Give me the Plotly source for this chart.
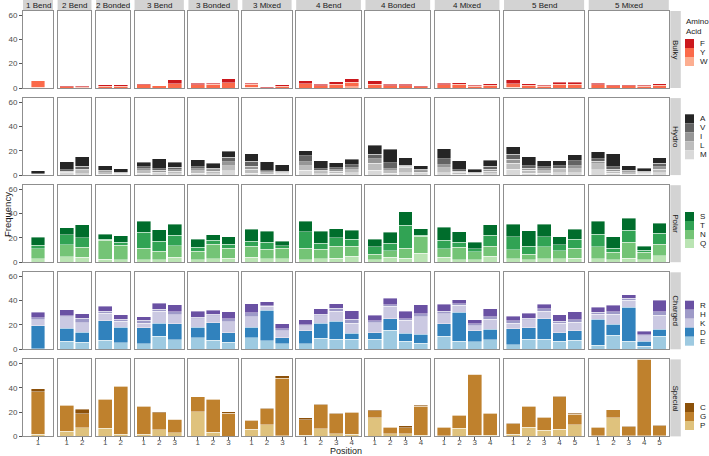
import plotly.graph_objects as go

# ---------------- data ----------------
facets = ["1 Bend", "2 Bend", "2 Bonded", "3 Bend", "3 Bonded", "3 Mixed",
          "4 Bend", "4 Bonded", "4 Mixed", "5 Bend", "5 Mixed"]
n_positions = [1, 2, 2, 3, 3, 3, 4, 4, 4, 5, 5]
groups = ["Bulky", "Hydro", "Polar", "Charged", "Special"]

# values ordered facet by facet, position by position (36 bars)
# Bulky
bulky_F = [0.0, 0.8, 0.6, 1.2, 1.5, 1.0, 0.0, 3.0, 1.3, 1.1, 3.3, 0.8, 0.8, 1.3,
           2.2, 1.0, 2.4, 2.8, 3.0, 1.2, 1.2, 0.7, 1.2, 1.4, 0.8, 1.2,
           3.3, 1.2, 0.8, 1.6, 1.6, 1.3, 1.0, 1.0, 0.8, 1.3]
bulky_Y = [5.6, 1.1, 0.8, 1.3, 1.3, 2.6, 1.9, 3.6, 2.6, 3.0, 4.2, 2.4, 0.3, 1.5,
           3.6, 2.0, 2.9, 4.0, 3.1, 1.8, 1.8, 1.2, 2.7, 3.0, 1.4, 2.1,
           3.0, 2.4, 1.4, 3.1, 3.1, 2.8, 1.8, 1.8, 1.4, 2.3]
bulky_W = [0.5, 0.0, 0.0, 0.0, 0.0, 0.0, 0.0, 0.0, 0.0, 0.0, 0.0, 0.7, 0.0, 0.0,
           0.0, 0.0, 0.0, 0.9, 0.0, 0.0, 0.0, 0.0, 0.0, 0.0, 0.0, 0.0,
           0.6, 0.0, 0.0, 0.0, 0.0, 0.0, 0.0, 0.0, 0.0, 0.0]
# Hydro
hydro_A = [2.5, 6.6, 7.5, 3.9, 3.0, 3.6, 8.0, 4.1, 5.8, 3.9, 5.0, 6.4, 7.2, 5.5,
           4.4, 6.4, 4.1, 4.4, 7.5, 11.0, 6.1, 2.8, 8.3, 7.5, 2.8, 5.3,
           6.1, 7.2, 5.0, 4.1, 5.3, 6.1, 10.5, 3.6, 2.5, 4.4]
hydro_V = [0.3, 1.2, 2.5, 1.0, 0.6, 1.6, 1.5, 1.8, 1.8, 1.5, 3.6, 3.9, 1.0, 0.8,
           4.7, 1.4, 1.5, 2.5, 3.6, 5.0, 1.1, 1.2, 4.7, 1.2, 0.6, 2.2,
           4.1, 2.0, 1.8, 2.0, 3.9, 2.0, 2.0, 1.0, 0.8, 2.8]
hydro_I = [0.3, 1.0, 1.5, 1.0, 0.6, 1.6, 1.3, 1.5, 1.5, 1.3, 3.3, 2.5, 0.8, 0.7,
           3.3, 1.2, 1.3, 1.8, 3.6, 1.8, 0.8, 1.0, 2.5, 1.0, 0.5, 1.6,
           3.3, 1.8, 1.5, 1.6, 2.4, 1.8, 1.6, 1.0, 0.7, 2.0]
hydro_L = [0.3, 1.2, 2.2, 1.0, 0.6, 2.2, 1.5, 1.8, 2.1, 1.7, 4.1, 3.3, 1.0, 0.9,
           4.0, 1.5, 1.7, 2.4, 6.1, 2.0, 4.5, 1.5, 4.1, 1.3, 0.6, 2.0,
           5.0, 2.2, 2.1, 2.4, 3.2, 5.0, 1.8, 1.0, 0.8, 2.8]
hydro_M = [0.2, 1.0, 1.2, 0.8, 0.5, 1.5, 1.0, 1.3, 1.5, 1.3, 3.6, 1.6, 0.8, 0.7,
           3.8, 1.1, 1.4, 1.9, 3.8, 1.5, 1.9, 1.0, 2.0, 0.9, 0.5, 1.3,
           4.7, 1.7, 1.5, 1.8, 2.1, 4.5, 1.5, 0.9, 0.7, 2.1]
# Polar
polar_S = [6.6, 5.8, 11.0, 4.0, 5.3, 9.1, 9.4, 9.1, 6.6, 4.7, 6.1, 10.0, 9.1, 3.9,
           8.8, 10.0, 7.2, 7.5, 6.1, 9.1, 11.0, 5.3, 10.8, 8.6, 5.3, 8.6,
           10.2, 13.0, 10.5, 6.4, 8.3, 10.5, 9.4, 9.7, 3.6, 8.3]
polar_T = [2.8, 8.3, 7.5, 1.0, 2.8, 13.0, 8.0, 8.6, 3.3, 3.3, 3.3, 3.9, 5.8, 1.9,
           13.3, 5.0, 7.2, 5.5, 6.1, 5.8, 18.8, 0.8, 6.9, 3.9, 2.2, 9.1,
           10.8, 6.4, 8.3, 5.0, 7.2, 10.5, 3.6, 10.0, 1.4, 9.1]
polar_N = [8.3, 10.0, 8.3, 15.5, 11.6, 9.4, 6.9, 9.4, 6.9, 11.9, 8.3, 9.1, 7.7, 8.8,
           9.4, 7.7, 9.7, 8.3, 4.4, 5.5, 8.3, 14.0, 6.9, 10.2, 6.6, 8.0,
           7.5, 4.4, 9.7, 6.6, 8.3, 9.7, 5.8, 13.0, 6.1, 9.1]
polar_Q = [2.8, 4.4, 4.1, 2.5, 2.2, 2.2, 2.2, 4.1, 2.2, 2.8, 3.3, 4.1, 3.0, 2.8,
           2.2, 2.8, 3.3, 5.0, 2.2, 4.1, 3.3, 7.5, 4.1, 2.2, 2.2, 5.0,
           2.8, 2.2, 2.8, 2.8, 3.3, 2.8, 2.2, 3.3, 2.2, 5.5]
# Charged
charged_R = [4.2, 5.0, 3.9, 3.9, 3.6, 2.8, 5.0, 5.8, 4.7, 3.3, 5.8, 7.5, 3.3, 4.2,
             3.9, 4.4, 3.9, 6.9, 4.4, 5.3, 6.1, 7.2, 5.8, 3.3, 3.1, 6.7,
             3.9, 4.2, 3.9, 5.3, 6.4, 3.9, 5.3, 2.8, 2.8, 9.4]
charged_H = [1.9, 0.5, 3.6, 1.7, 1.7, 2.5, 1.7, 2.2, 1.4, 1.4, 2.5, 3.1, 0.6, 1.7,
             1.1, 1.4, 2.5, 3.3, 1.7, 1.4, 1.4, 2.8, 1.9, 1.1, 1.7, 2.2,
             1.9, 1.4, 2.2, 1.7, 2.2, 1.7, 1.9, 1.7, 0.8, 2.8]
charged_K = [4.7, 9.4, 7.8, 6.1, 4.7, 3.6, 9.7, 7.5, 6.7, 5.8, 9.2, 8.9, 3.3, 5.8,
             3.9, 6.1, 8.1, 8.3, 8.3, 10.3, 10.8, 14.4, 8.3, 5.6, 4.2, 8.1,
             4.4, 6.4, 6.1, 7.8, 6.9, 4.2, 8.3, 5.6, 4.4, 11.7]
charged_D = [19.0, 10.8, 8.3, 16.1, 13.0, 13.0, 10.6, 13.3, 8.9, 14.2, 7.8, 8.6, 25.0, 4.7,
             10.6, 12.5, 15.0, 5.0, 5.3, 9.4, 6.4, 7.2, 10.3, 23.9, 9.2, 8.6,
             13.1, 9.7, 16.7, 6.9, 7.8, 21.4, 8.9, 28.0, 4.2, 5.8]
charged_E = [0.5, 6.7, 5.8, 7.5, 5.3, 4.7, 10.8, 7.8, 9.4, 7.5, 5.6, 9.4, 6.9, 4.7,
             4.7, 8.9, 8.1, 8.3, 8.3, 15.6, 6.7, 5.0, 10.8, 6.7, 6.1, 7.8,
             3.9, 8.1, 8.3, 6.7, 7.5, 3.3, 11.7, 6.7, 2.5, 10.6]
# Special
special_C = [2.5, 0.3, 3.6, 0.3, 0.3, 0.3, 0.5, 0.3, 0.3, 0.5, 1.4, 0.2, 0.3, 1.7,
             1.4, 0.3, 0.3, 0.5, 0.8, 0.5, 1.4, 1.1, 0.3, 0.3, 0.0, 0.5,
             0.5, 0.5, 0.5, 0.3, 0.8, 0.5, 0.3, 0.5, 0.0, 0.5]
special_G = [35.0, 21.5, 11.6, 24.0, 39.7, 23.1, 14.1, 11.2, 12.4, 26.8, 19.0, 7.5, 13.2, 47.5,
             13.0, 20.1, 16.5, 18.2, 5.5, 5.3, 5.0, 23.5, 7.2, 10.8, 50.2, 18.3,
             8.8, 17.4, 10.6, 27.0, 8.6, 7.0, 6.4, 7.2, 62.8, 8.0]
special_P = [1.7, 4.1, 7.2, 6.6, 1.7, 1.7, 5.5, 2.8, 20.1, 3.6, 0.0, 5.8, 9.7, 0.5,
             0.8, 6.1, 2.2, 1.7, 15.5, 2.2, 2.2, 1.1, 0.5, 6.6, 0.8, 0.8,
             1.7, 7.5, 5.2, 5.8, 9.7, 0.5, 15.4, 0.6, 0.5, 0.6]

# legend order (top to bottom) per group; stacks are drawn bottom-up (reverse)
acids = {
    "Bulky": [("F", bulky_F), ("Y", bulky_Y), ("W", bulky_W)],
    "Hydro": [("A", hydro_A), ("V", hydro_V), ("I", hydro_I), ("L", hydro_L), ("M", hydro_M)],
    "Polar": [("S", polar_S), ("T", polar_T), ("N", polar_N), ("Q", polar_Q)],
    "Charged": [("R", charged_R), ("H", charged_H), ("K", charged_K), ("D", charged_D), ("E", charged_E)],
    "Special": [("C", special_C), ("G", special_G), ("P", special_P)],
}
colors = {
    "F": "#CB181D", "Y": "#FB6A4A", "W": "#FCAE91",
    "A": "#252525", "V": "#636363", "I": "#969696", "L": "#BDBDBD", "M": "#D9D9D9",
    "S": "#006D2C", "T": "#31A354", "N": "#74C476", "Q": "#BAE4B3",
    "R": "#6A51A3", "H": "#9E9AC8", "K": "#CBC9E2", "D": "#3182BD", "E": "#9ECAE1",
    "C": "#8C510A", "G": "#BF812D", "P": "#DFC27D",
}
y_ticks = [0, 20, 40, 60]
y_max = 63.3

# ---------------- layout geometry (pixels) ----------------
W, H = 709, 456
FONT = "Liberation Sans, Arial, sans-serif"
def px(x):
    return x / W
def py(y):
    return 1 - y / H

unit = 15.4
gap = 4.6
left0 = 23.0
panel_x = []
x = left0
for n in n_positions:
    w = 30.0 if n == 1 else (n + 0.2) * unit
    panel_x.append((x, x + w))
    x += w + gap
row_top = [11.0 + 87.1 * r for r in range(5)]
row_h = 77.0

fig = go.Figure()
layout = {}
shapes = []
annotations = []

starts = []
s = 0
for n in n_positions:
    starts.append(s)
    s += n

for r, g in enumerate(groups):
    for c, f in enumerate(facets):
        k = r * len(facets) + c + 1
        xa = "x" if k == 1 else f"x{k}"
        ya = "y" if k == 1 else f"y{k}"
        n = n_positions[c]
        pos = list(range(1, n + 1))
        for aa, vals in reversed(acids[g]):
            fig.add_trace(go.Bar(
                x=pos, y=vals[starts[c]:starts[c] + n], width=0.9,
                marker=dict(color=colors[aa], line=dict(color="rgba(255,255,255,0.8)", width=0.5)),
                xaxis=xa, yaxis=ya, showlegend=False, name=aa,
            ))
        x0, x1 = panel_x[c]
        y0 = row_top[r]
        y1 = y0 + row_h
        xr = [1 - 30.0 / unit / 2, 1 + 30.0 / unit / 2] if n == 1 else [0.4, n + 0.6]
        xkey = "xaxis" if k == 1 else f"xaxis{k}"
        ykey = "yaxis" if k == 1 else f"yaxis{k}"
        layout[xkey] = dict(
            domain=[px(x0), px(x1)], range=xr, anchor=ya, automargin=False,
            showgrid=False, zeroline=False, showline=True, mirror=True,
            linecolor="#8f8f8f", linewidth=1,
            tickvals=pos, ticktext=[str(p) for p in pos],
            showticklabels=(r == len(groups) - 1),
            ticks="outside" if r == len(groups) - 1 else "",
            ticklen=3, tickcolor="#555555", tickwidth=1,
            ticklabelstandoff=-5,
            tickfont=dict(family=FONT, size=8, color="#4d4d4d"),
            fixedrange=True,
        )
        layout[ykey] = dict(
            domain=[py(y1), py(y0)], range=[0, y_max], anchor=xa, automargin=False,
            showgrid=False, zeroline=False, showline=True, mirror=True,
            linecolor="#8f8f8f", linewidth=1,
            tickvals=y_ticks, ticktext=[str(t) for t in y_ticks],
            showticklabels=(c == 0), ticks="outside" if c == 0 else "",
            ticklen=3, tickcolor="#555555", tickwidth=1,
            tickfont=dict(family=FONT, size=8, color="#4d4d4d"),
            fixedrange=True,
        )

# top strips
for c, f in enumerate(facets):
    x0, x1 = panel_x[c]
    shapes.append(dict(type="rect", xref="paper", yref="paper",
                       x0=px(x0), x1=px(x1), y0=py(10.5), y1=py(0),
                       fillcolor="#D3D3D3", line=dict(width=0), layer="below"))
    annotations.append(dict(xref="paper", yref="paper", x=px((x0 + x1) / 2), y=py(5.5),
                            text=f, showarrow=False, xanchor="center", yanchor="middle",
                            font=dict(family=FONT, size=8, color="#1a1a1a")))
# right strips
for r, g in enumerate(groups):
    y0 = row_top[r]
    y1 = y0 + row_h
    shapes.append(dict(type="rect", xref="paper", yref="paper",
                       x0=px(670.3), x1=px(680.8), y0=py(y1), y1=py(y0),
                       fillcolor="#D3D3D3", line=dict(width=0), layer="below"))
    annotations.append(dict(xref="paper", yref="paper", x=px(675.5), y=py((y0 + y1) / 2),
                            text=g, showarrow=False, textangle=90,
                            xanchor="center", yanchor="middle",
                            font=dict(family=FONT, size=8, color="#1a1a1a")))

# legends (one per row)
legend_top = [39.0, 114.3, 212.0, 300.7, 403.0]
key = 9.0
for r, g in enumerate(groups):
    for i, (aa, _) in enumerate(acids[g]):
        t = legend_top[r] + i * key
        shapes.append(dict(type="rect", xref="paper", yref="paper",
                           x0=px(685), x1=px(694), y0=py(t + key), y1=py(t),
                           fillcolor=colors[aa], line=dict(width=0)))
        annotations.append(dict(xref="paper", yref="paper", x=px(697.5), y=py(t + key / 2),
                                text=aa, showarrow=False, xanchor="left", yanchor="middle",
                                font=dict(family=FONT, size=8, color="#1a1a1a")))
annotations.append(dict(xref="paper", yref="paper", x=px(684), y=py(15),
                        text="Amino<br>Acid", showarrow=False, xanchor="left", yanchor="top",
                        align="left", font=dict(family=FONT, size=8, color="#1a1a1a")))

# axis titles
annotations.append(dict(xref="paper", yref="paper", x=px(7), y=py(215),
                        text="Frequency", showarrow=False, textangle=-90,
                        xanchor="center", yanchor="middle",
                        font=dict(family=FONT, size=9.5, color="#1a1a1a")))
annotations.append(dict(xref="paper", yref="paper", x=px(346), y=py(450.5),
                        text="Position", showarrow=False,
                        xanchor="center", yanchor="middle",
                        font=dict(family=FONT, size=9, color="#1a1a1a")))

fig.update_layout(
    width=W, height=H, autosize=False,
    margin=dict(l=0, r=0, t=0, b=0, pad=0),
    paper_bgcolor="white", plot_bgcolor="white",
    barmode="stack", showlegend=False,
    shapes=shapes, annotations=annotations,
    **layout,
)
fig.write_html(
    "out.html",
    config={"displayModeBar": False},
    post_script="document.body.style.margin='0px';document.body.style.overflow='hidden';",
)
